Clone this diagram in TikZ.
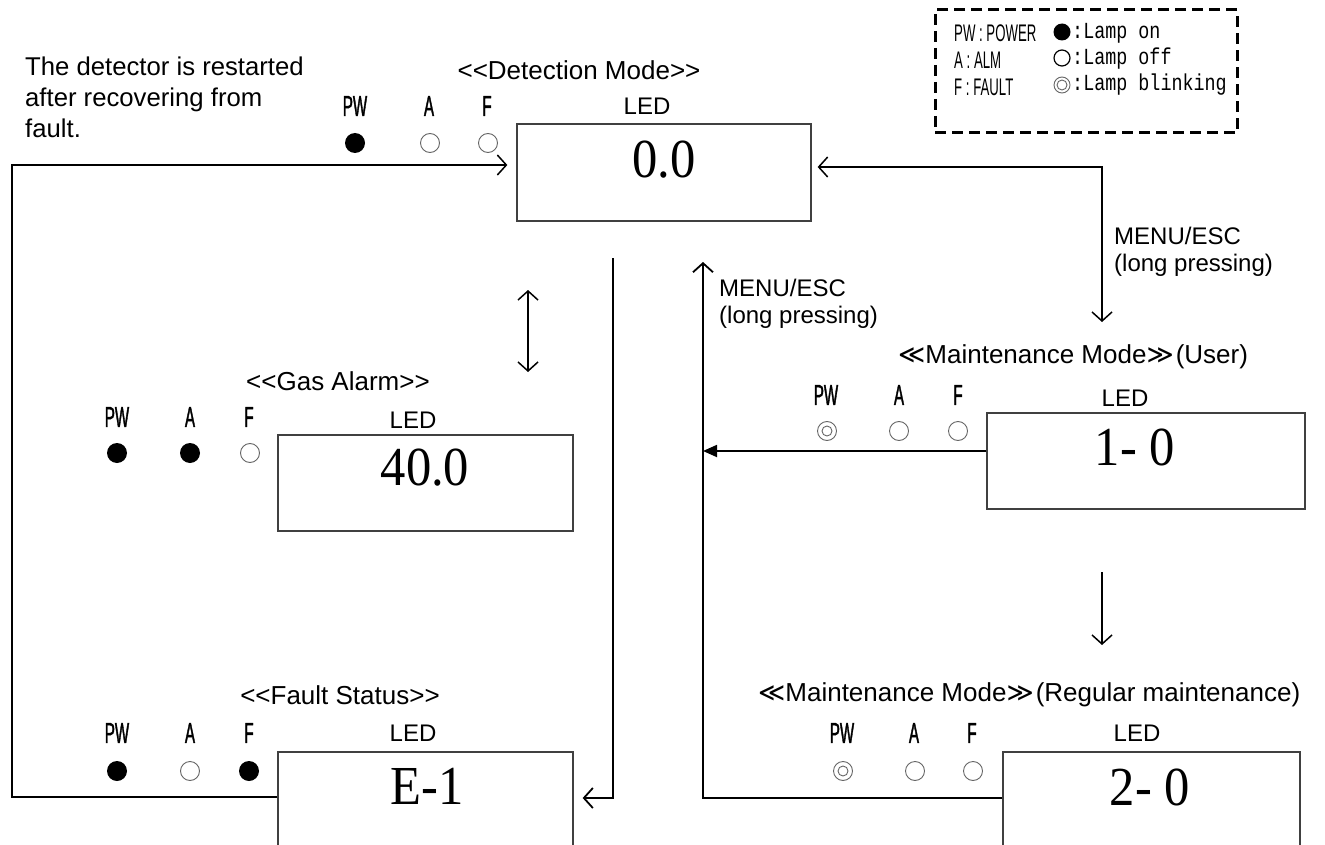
\documentclass[tikz,border=0pt]{standalone}
\usepackage{fontspec}
\setmainfont{Liberation Sans}[Ligatures=TeXOff]
\newfontfamily\narrowf[FakeStretch=0.55]{Liberation Sans}
\newfontfamily\narrowbf[FakeStretch=0.52, FakeBold=1.2]{Liberation Sans}
\newfontfamily\monof[FakeStretch=0.8]{Liberation Mono}
\newfontfamily\digitf[FakeStretch=0.92]{Liberation Serif}
\newfontfamily\symf{DejaVu Sans}
\usetikzlibrary{arrows.meta}
\tikzset{
  txt/.style={font=\fontsize{24}{27}\selectfont, inner sep=0pt},
  ttl/.style={font=\fontsize{26}{30}\selectfont, inner sep=0pt},
  lampname/.style={font=\narrowbf\fontsize{29}{30}\selectfont, inner sep=0pt},
  legtxt/.style={font=\narrowf\fontsize{24}{26}\selectfont, inner sep=0pt, anchor=west},
  legmono/.style={font=\monof\fontsize{23}{26}\selectfont, inner sep=0pt, anchor=west},
  lcd/.style={draw=black!75, line width=1.3pt, inner sep=0pt},
  digits/.style={font=\digitf\fontsize{55}{58}\selectfont, inner sep=0pt},
  lon/.style={circle, fill=black, inner sep=0pt, minimum size=20pt},
  loff/.style={circle, draw=black!60, line width=0.9pt, inner sep=0pt, minimum size=19pt},
  lblink/.style={loff, path picture={\draw[black!60, line width=0.9pt] (path picture bounding box.center) circle[radius=5pt];}},
  conn/.style={line width=1.8pt},
  barb/.style={-{Straight Barb[length=9pt, width=20pt]}},
  dbarb/.style={{Straight Barb[length=9pt, width=20pt]}-{Straight Barb[length=9pt, width=20pt]}},
  solidtip/.style={-{Triangle[length=14pt, width=12pt]}},
}
\newcommand\mmL{{\symf\char"226A}}
\newcommand\mmR{{\symf\char"226B}\kern2pt}
\begin{document}
\begin{tikzpicture}[x=1pt, y=-1pt]
\useasboundingbox (0,0) rectangle (1325,845);
\clip (0,0) rectangle (1325,845);
\fill[white] (0,0) rectangle (1325,845);

% ---------- legend ----------
\node[draw, line width=3pt, dash pattern=on 11pt off 6pt, minimum width=302pt, minimum height=123pt, inner sep=0pt] (legend) at (1086,71.5) {};
\node[legtxt] (lg1) at (954,33) {PW : POWER};
\node[legtxt] (lg2) at (954,60) {A : ALM};
\node[legtxt] (lg3) at (954,87) {F : FAULT};
\node[lon, minimum size=17pt] (ls1) at (1062,32) {};
\node[loff, minimum size=16pt, draw=black, line width=1.2pt] (ls2) at (1062,58) {};
\node[lblink, minimum size=16pt] (ls3) at (1062,85) {};
\node[legmono] (lt1) at (1072,33) {:Lamp on};
\node[legmono] (lt2) at (1072,59) {:Lamp off};
\node[legmono] (lt3) at (1072,85) {:Lamp blinking};

% ---------- note ----------
\node[font=\fontsize{25.7}{31}\selectfont, inner sep=0pt, anchor=north west, align=left] (note) at (25,57) {The detector is restarted\\after recovering from\\fault.};

% ---------- Detection mode ----------
\node[ttl] (detT) at (579,70) {<<Detection Mode>>};
\node[lampname] (dPW) at (355,106) {PW};
\node[lampname] (dA) at (429,106) {A};
\node[lampname] (dF) at (487,106) {F};
\node[lon] (dPWl) at (355,143) {};
\node[loff] (dAl) at (430,143) {};
\node[loff] (dFl) at (488,143) {};
\node[txt] (dLED) at (647,106) {LED};
\node[lcd, minimum width=294pt, minimum height=97pt] (det) at (664,172.5) {};
\node[digits] (detv) at (664,160) {0.0};

% ---------- Gas alarm ----------
\node[ttl] (gasT) at (338,381) {<<Gas Alarm>>};
\node[lampname] (gPW) at (117,417) {PW};
\node[lampname] (gA) at (190,417) {A};
\node[lampname] (gF) at (249,417) {F};
\node[lon] (gPWl) at (117,453) {};
\node[lon] (gAl) at (190,453) {};
\node[loff] (gFl) at (250,453) {};
\node[txt] (gLED) at (413,420) {LED};
\node[lcd, minimum width=295pt, minimum height=96pt] (gas) at (425.5,483) {};
\node[digits] (gasv) at (425,468) {40.0};

% ---------- Fault status ----------
\node[ttl] (fltT) at (340,695) {<<Fault Status>>};
\node[lampname] (fPW) at (117,733) {PW};
\node[lampname] (fA) at (190,733) {A};
\node[lampname] (fF) at (249,733) {F};
\node[lon] (fPWl) at (117,771) {};
\node[loff] (fAl) at (190,771) {};
\node[lon] (fFl) at (249,771) {};
\node[txt] (fLED) at (413,733) {LED};
\node[lcd, minimum width=295pt, minimum height=100pt] (flt) at (425.5,802) {};
\node[digits] (fltv) at (427,786) {E-1};

% ---------- Maintenance (User) ----------
\node[ttl, anchor=west] (usrT) at (898,357) {\mmL Maintenance Mode\mmR(User)};
\node[lampname] (uPW) at (826,395) {PW};
\node[lampname] (uA) at (899,395) {A};
\node[lampname] (uF) at (958,395) {F};
\node[lblink] (uPWl) at (827,431) {};
\node[loff] (uAl) at (899,431) {};
\node[loff] (uFl) at (958,431) {};
\node[txt] (uLED) at (1125,398) {LED};
\node[lcd, minimum width=318pt, minimum height=96pt] (usr) at (1146,461) {};
\node[digits] (usrv) at (1135,447) {1- 0};

% ---------- Maintenance (Regular) ----------
\node[ttl, anchor=west] (regT) at (758,695) {\mmL Maintenance Mode\mmR(Regular maintenance)};
\node[lampname] (rPW) at (842,733) {PW};
\node[lampname] (rA) at (914,733) {A};
\node[lampname] (rF) at (972,733) {F};
\node[lblink] (rPWl) at (843,771) {};
\node[loff] (rAl) at (915,771) {};
\node[loff] (rFl) at (973,771) {};
\node[txt] (rLED) at (1137,733) {LED};
\node[lcd, minimum width=297pt, minimum height=100pt] (reg) at (1151.5,802) {};
\node[digits] (regv) at (1150,787) {2- 0};

% ---------- connector labels ----------
\node[txt, anchor=north west, align=left] (m1) at (1114,227) {MENU/ESC\\(long pressing)};
\node[txt, anchor=north west, align=left] (m2) at (719,279) {MENU/ESC\\(long pressing)};

% ---------- connector coordinates ----------
\coordinate (loopc) at (12,797);
\coordinate (menuEnd) at (1102,322);
\coordinate (dblTop) at (528,290);
\coordinate (dblBot) at (528,372);
\coordinate (downTop) at (613,258);
\coordinate (upTop) at (703,262);
\coordinate (usrArrTop) at (1102,572);
\coordinate (usrArrBot) at (1102,645);

% ---------- connectors ----------
\draw[conn, line width=1.5pt, barb] ([yshift=5pt]flt.west) -- (loopc) |- ([xshift=-9pt, yshift=7.5pt]det.west);
\draw[conn, line width=1.5pt, dbarb] ([xshift=6pt, yshift=5.5pt]det.east) -| (menuEnd);
\draw[conn, line width=1.5pt, dbarb] (dblTop) -- (dblBot);
\draw[conn, barb] (downTop) |- ([xshift=9pt, yshift=4pt]flt.east);
\draw[conn, solidtip] ([yshift=10pt]usr.west) -- (upTop |- 0,451);
\draw[conn, barb] ([yshift=4pt]reg.west) -| (upTop);
\draw[conn, line width=1.5pt, barb] (usrArrTop) -- (usrArrBot);
\end{tikzpicture}
\end{document}
